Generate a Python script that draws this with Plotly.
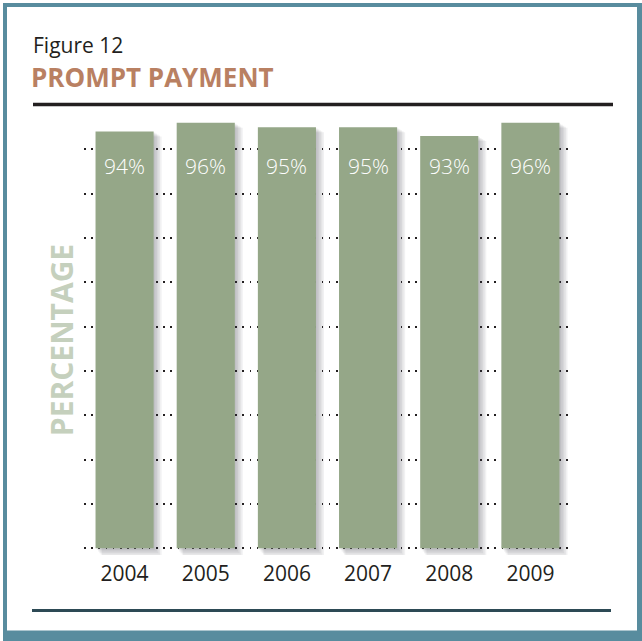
import plotly.graph_objects as go

years = ["2004", "2005", "2006", "2007", "2008", "2009"]
values = [94, 96, 95, 95, 93, 96]
labels = [f"{v}%" for v in values]
grid_vals = [0, 10, 20, 30, 40, 50, 60, 70, 80, 90]

W, H = 642, 641
Y0 = 548          # px of 0%
PX_Y = 4.43       # px per percent
YMIN, YMAX = -1.5, 100
L, R = 84, 571
T = Y0 - YMAX * PX_Y
B = Y0 - YMIN * PX_Y
BAR_W = 0.716
PX_X = (R - L) / len(years)

def px(xp):
    return (xp - L) / (R - L)

def py(yp):
    return (B - yp) / (B - T)

fig = go.Figure()

# soft drop shadows (layered translucent bars)
for k in range(1, 6):
    d = k * 1.6
    fig.add_trace(go.Bar(
        x=years, y=[v + d / PX_Y - 1.0 / PX_Y * k for v in values],
        base=-d / PX_Y,
        width=BAR_W + (d * 0.2) / PX_X,
        offset=-BAR_W / 2 + (d * 0.8) / PX_X,
        marker=dict(color="rgba(60,60,70,0.07)", line=dict(width=0)),
        hoverinfo="skip", showlegend=False,
    ))

fig.add_trace(go.Bar(
    x=years, y=values, width=BAR_W,
    marker=dict(color="#95a788", line=dict(width=0)),
    hoverinfo="skip", showlegend=False,
))

annotations = []
for i, lab in enumerate(labels):
    annotations.append(dict(
        x=i, y=86.3, xref="x", yref="y", text=lab, showarrow=False,
        font=dict(family="Open Sans", size=21, color="#ffffff", weight=300),
        xanchor="center", yanchor="middle",
    ))

annotations += [
    dict(x=px(31), y=py(45), xref="paper", yref="paper", text="Figure 12",
         showarrow=False, xanchor="left", yanchor="middle",
         font=dict(family="Open Sans", size=21, color="#231f20")),
    dict(x=px(29), y=py(77), xref="paper", yref="paper", text="<b>PROMPT PAYMENT</b>",
         showarrow=False, xanchor="left", yanchor="middle",
         font=dict(family="Open Sans", size=26, color="#b98062")),
    dict(x=px(61), y=py(340), xref="paper", yref="paper", text="<b>PERCENTAGE</b>",
         showarrow=False, xanchor="center", yanchor="middle", textangle=-90,
         font=dict(family="Open Sans", size=30, color="#c5d0bd", weight=800)),
]

teal = "#588c9e"
shapes = [
    dict(type="line", xref="paper", yref="paper", x0=px(33), x1=px(613),
         y0=py(104.5), y1=py(104.5), line=dict(color="#231f20", width=3.5)),
    dict(type="line", xref="paper", yref="paper", x0=px(32), x1=px(611),
         y0=py(610), y1=py(610), line=dict(color="#2d4a55", width=3)),
    # frame
    dict(type="rect", xref="paper", yref="paper", x0=px(3), x1=px(7), y0=py(3), y1=py(641),
         fillcolor=teal, line=dict(width=0), layer="above"),
    dict(type="rect", xref="paper", yref="paper", x0=px(637), x1=px(642), y0=py(3), y1=py(641),
         fillcolor=teal, line=dict(width=0), layer="above"),
    dict(type="rect", xref="paper", yref="paper", x0=px(3), x1=px(642), y0=py(3), y1=py(7),
         fillcolor=teal, line=dict(width=0), layer="above"),
    dict(type="rect", xref="paper", yref="paper", x0=px(3), x1=px(642), y0=py(630), y1=py(641),
         fillcolor=teal, line=dict(width=0), layer="above"),
]

fig.update_layout(
    width=W, height=H,
    margin=dict(l=L, r=W - R, t=T, b=H - B, pad=0),
    barmode="overlay",
    plot_bgcolor="white", paper_bgcolor="white",
    xaxis=dict(
        type="category", range=[-0.5, len(years) - 0.5], showgrid=False,
        showline=False, zeroline=False, ticks="",
        tickfont=dict(family="Open Sans", size=21, color="#231f20"),
        ticklabelstandoff=4,
    ),
    yaxis=dict(
        range=[YMIN, YMAX], tickvals=grid_vals, showticklabels=False,
        showgrid=True, gridcolor="#231f20", gridwidth=1.6, griddash="1.6px,5.6px",
        zeroline=False, showline=False, ticks="",
    ),
    annotations=annotations,
    shapes=shapes,
    hovermode=False,
)

fig.write_html("out.html", config={"displayModeBar": False})
